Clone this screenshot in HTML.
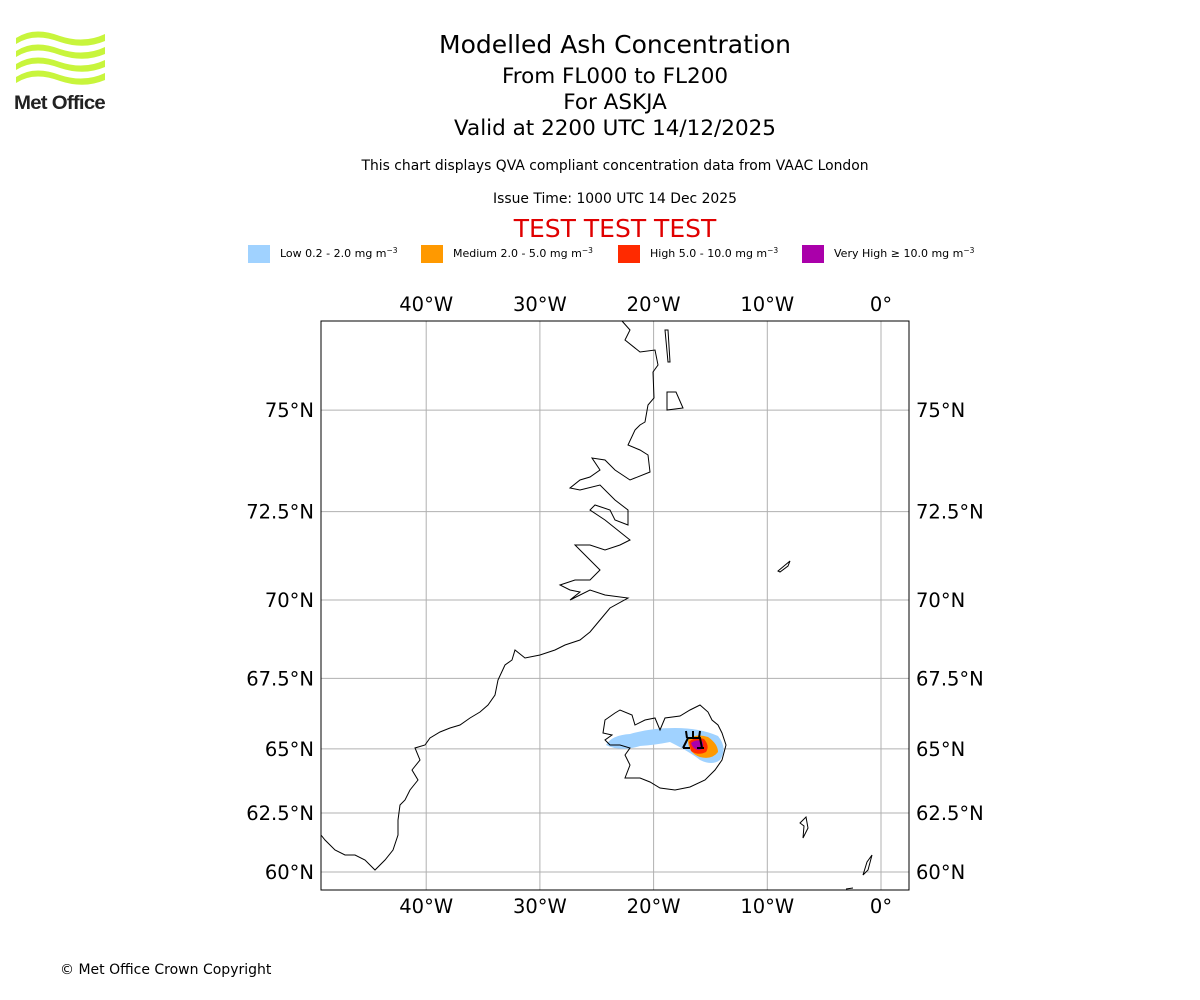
<!DOCTYPE html>
<html><head><meta charset="utf-8"><style>
body{margin:0;width:1200px;height:1000px;background:#fff;font-family:"DejaVu Sans","Liberation Sans",sans-serif;overflow:hidden}
.t{position:absolute;left:0;width:1230px;text-align:center;color:#000}
</style></head><body>
<svg style="position:absolute;left:14px;top:30px" width="94" height="82" viewBox="0 0 94 82">
<g fill="#c8f53c">
<path d="M2 8 Q20 -4 46 6 Q70 14 91 4 L91 11 Q70 20 46 12 Q20 2 2 14Z"/>
<path d="M2 21 Q20 9 46 19 Q70 27 91 17 L91 24 Q70 33 46 25 Q20 15 2 27Z"/>
<path d="M2 34 Q20 22 46 32 Q70 40 91 30 L91 37 Q70 46 46 38 Q20 28 2 40Z"/>
<path d="M2 47 Q20 35 46 45 Q70 53 91 43 L91 50 Q70 59 46 51 Q20 41 2 53Z"/>
</g>
<text x="0" y="79" font-family="Liberation Sans,sans-serif" font-weight="bold" font-size="19" fill="#222" letter-spacing="-0.7" textLength="91" lengthAdjust="spacingAndGlyphs">Met Office</text>
</svg>
<div class="t" style="top:30px;font-size:25px">Modelled Ash Concentration</div>
<div class="t" style="top:64px;font-size:21.5px">From FL000 to FL200</div>
<div class="t" style="top:90px;font-size:21.5px">For ASKJA</div>
<div class="t" style="top:116px;font-size:21.5px">Valid at 2200 UTC 14/12/2025</div>
<div class="t" style="top:158px;font-size:13.9px">This chart displays QVA compliant concentration data from VAAC London</div>
<div class="t" style="top:191px;font-size:13.9px">Issue Time: 1000 UTC 14 Dec 2025</div>
<div class="t" style="top:214px;font-size:25px;color:#e00000">TEST TEST TEST</div>
<svg style="position:absolute;left:0;top:240px" width="1200" height="30" font-size="11">
<rect x="248" y="5" width="22" height="18" fill="#a0d2ff"/><text x="280" y="17">Low 0.2 - 2.0 mg m<tspan dy="-4" font-size="7.5">−3</tspan></text>
<rect x="421" y="5" width="22" height="18" fill="#ff9900"/><text x="453" y="17">Medium 2.0 - 5.0 mg m<tspan dy="-4" font-size="7.5">−3</tspan></text>
<rect x="618" y="5" width="22" height="18" fill="#ff2a00"/><text x="650" y="17">High 5.0 - 10.0 mg m<tspan dy="-4" font-size="7.5">−3</tspan></text>
<rect x="802" y="5" width="22" height="18" fill="#aa00aa"/><text x="834" y="17">Very High  ≥  10.0 mg m<tspan dy="-4" font-size="7.5">−3</tspan></text>
</svg>
<svg id="map" style="position:absolute;left:0;top:0" width="1200" height="1000"></svg>
<div style="position:absolute;left:60px;top:962px;font-size:14px">© Met Office Crown Copyright</div>
<script>
const lonTicks=[-40,-30,-20,-10,0];
const lonLabels=["40°W","30°W","20°W","10°W","0°"];
const latTicks=[60,62.5,65,67.5,70,72.5,75];
const latLabels=["60°N","62.5°N","65°N","67.5°N","70°N","72.5°N","75°N"];
const NS="http://www.w3.org/2000/svg";
const svg=document.getElementById('map');
const X0=321,X1=909,Y0=321,Y1=890;
function merc(l){return Math.log(Math.tan(Math.PI/4+l*Math.PI/360));}
function xs(lon){return 881+lon*11.37;}
function ys(lat){return 872-(merc(lat)-merc(60))*650;}
function mk(tag,attrs){const e=document.createElementNS(NS,tag);for(const k in attrs)e.setAttribute(k,attrs[k]);svg.appendChild(e);return e;}
lonTicks.forEach((v,i)=>{const x=xs(v);
const g=mk('line',{x1:x,x2:x,y1:Y0,y2:Y1,stroke:'#b0b0b0','stroke-width':1});


[311,913].forEach(y=>{const t=mk('text',{x:x,y:y,'text-anchor':'middle','font-size':19.5});t.textContent=lonLabels[i];

});
});
latTicks.forEach((v,i)=>{const y=ys(v);
const g=mk('line',{x1:X0,x2:X1,y1:y,y2:y,stroke:'#b0b0b0','stroke-width':1});


const a=mk('text',{x:314,y:y+7,'text-anchor':'end','font-size':19.5});a.textContent=latLabels[i];


const b=mk('text',{x:916,y:y+7,'font-size':19.5});b.textContent=latLabels[i];


});
function P(pts,close){return 'M'+pts.map(p=>p.join(' ')).join(' L')+(close?'Z':'');}
const greenland=[[622,321],[630,330],[625,340],[640,352],[655,350],[658,365],[653,372],[654,398],[648,405],[645,422],[640,425],[635,430],[628,445],[640,450],[648,455],[650,472],[630,480],[615,470],[605,460],[592,458],[600,470],[590,477],[580,480],[570,488],[580,490],[600,485],[615,500],[628,510],[628,525],[615,520],[610,510],[595,505],[590,510],[605,520],[630,540],[620,545],[605,550],[590,545],[575,545],[585,555],[600,570],[590,580],[575,580],[560,585],[570,590],[580,592],[570,600],[590,590],[605,595],[628,598],[610,608],[600,620],[590,632],[580,640],[565,645],[555,650],[540,655],[525,658],[515,650],[512,660],[505,665],[498,680],[495,695],[488,705],[480,712],[470,718],[460,725],[450,728],[440,732],[430,738],[425,745],[415,748],[420,760],[412,770],[418,780],[410,790],[405,800],[400,805],[398,820],[398,835],[393,850],[385,860],[375,870],[365,860],[355,855],[345,855],[335,850],[325,840],[321,835]];
let e=mk('path',{d:P(greenland),fill:'none',stroke:'#000','stroke-width':1});


e=mk('path',{d:'M665 330 L668 362 L670 362 L668 330 Z M667 392 L676 392 L683 408 L667 410Z',fill:'none',stroke:'#000','stroke-width':1});


const iceland=[[603,733],[605,720],[615,713],[620,710],[632,715],[635,725],[645,720],[655,718],[660,730],[665,718],[680,716],[690,710],[700,705],[708,712],[712,720],[718,725],[722,733],[726,745],[722,760],[715,770],[705,780],[690,787],[675,790],[660,788],[650,782],[640,778],[625,778],[630,765],[625,755],[630,748],[620,745],[610,745],[605,740],[612,735]];
e=mk('path',{d:'M606 745 Q612 735 630 734 Q650 728 675 728 Q700 728 718 736 Q728 748 720 760 Q712 766 700 760 Q690 752 670 742 Q655 745 640 746 Q620 752 606 745Z',fill:'#a0d2ff'});


e=mk('path',{d:'M688 740 Q695 733 708 737 Q718 744 718 752 Q712 760 700 757 Q688 753 688 740Z',fill:'#ff9900'});


e=mk('path',{d:'M689 742 Q695 736 704 739 Q710 746 706 752 Q698 756 691 751Z',fill:'#ff2a00'});


e=mk('path',{d:'M691 743 Q696 739 702 741 Q705 747 700 750 Q693 750 691 743Z',fill:'#aa00aa'});


e=mk('path',{d:P(iceland,true),fill:'none',stroke:'#000','stroke-width':1});


e=mk('path',{d:'M683 748 L688 738 L700 738 L702 748 M683 748 L690 748 M697 748 L704 748 M687 738 L686 731 M693 738 L693 731 M699 738 L700 731',fill:'none',stroke:'#000','stroke-width':2});


e=mk('path',{d:'M778 571 L790 561 L788 566 L780 572Z M800 823 L806 817 L808 828 L803 838 L804 826Z M863 875 L867 862 L872 855 L868 870Z M846 889 L853 888',fill:'none',stroke:'#000','stroke-width':1});


e=mk('rect',{x:X0,y:Y0,width:X1-X0,height:Y1-Y0,fill:'none',stroke:'#000','stroke-width':1});


</script>
</body></html>
